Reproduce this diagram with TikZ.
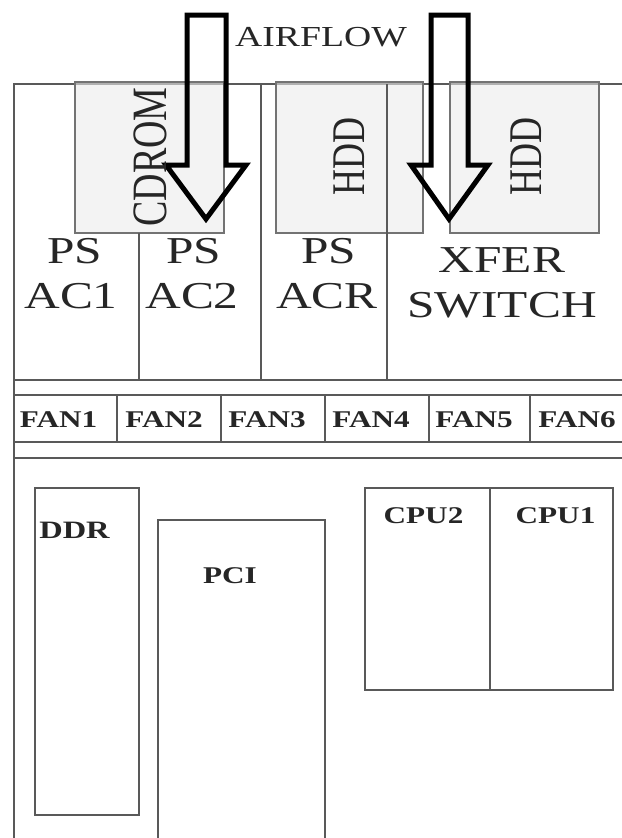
\documentclass[tikz,border=0pt]{standalone}
\usepackage{fontspec}
\setmainfont{Liberation Serif}
\begin{document}
\begin{tikzpicture}[x=0.76923pt, y=-1pt, xscale=1.3,
  frame/.style={draw=black!65, line width=1.1pt},
  bay/.style={draw=black!55, line width=1.1pt, fill=black!8, fill opacity=0.6},
  airarrow/.style={draw=black, line width=5pt, line join=miter},
  bigtxt/.style={transform shape, inner sep=0pt, text=black!85, font=\fontsize{38}{40}\selectfont},
  midtxt/.style={transform shape, inner sep=0pt, text=black!85, font=\fontsize{29}{31}\selectfont},
  smalltxt/.style={transform shape, inner sep=0pt, text=black!85, font=\bfseries\fontsize{24}{26}\selectfont}]
\useasboundingbox (0,0) rectangle (622,838);
% outer frame
\draw[frame] (622,84) -- (14,84) -- (14,838);
% shaded bays
\path[bay] (75,82) rectangle (224,233);
\path[bay] (276,82) rectangle (423,233);
\path[bay] (450,82) rectangle (599,233);
% power supply dividers
\draw[frame] (139,233) -- (139,380);
\draw[frame] (261,84) -- (261,380);
\draw[frame] (387,84) -- (387,380);
% horizontal bands
\draw[frame] (14,380) -- (622,380);
\draw[frame] (14,395) -- (622,395);
\draw[frame] (14,442) -- (622,442);
\draw[frame] (14,458) -- (622,458);
% fan dividers
\foreach \fx in {117,221,325,429,530}
  \draw[frame] (\fx,395) -- (\fx,442);
% DDR, PCI, CPU
\draw[frame] (35,488) rectangle (139,815);
\draw[frame] (158,838) -- (158,520) -- (325,520) -- (325,838);
\draw[frame] (365,488) rectangle (613,690);
\draw[frame] (490,488) -- (490,690);
% airflow arrows
\draw[airarrow] (187,15) -- (226,15) -- (226,165) -- (246,165) -- (206,219) -- (166,165) -- (187,165) -- cycle;
\draw[airarrow] (431,15) -- (468,15) -- (468,165) -- (488,165) -- (449,219) -- (411,165) -- (431,165) -- cycle;
% labels
\node[midtxt] (air) at (321,37.5) {AIRFLOW};
\node[bigtxt, rotate=90] (cdrom) at (150,157) {CDROM};
\node[bigtxt, rotate=90, font=\fontsize{36}{38}\selectfont] (hdd1) at (349,156) {HDD};
\node[bigtxt, rotate=90, font=\fontsize{36}{38}\selectfont] (hdd2) at (526,156) {HDD};
\node[bigtxt, anchor=base] (ps1) at (75,263) {PS};
\node[bigtxt, anchor=base] (ac1) at (71,308) {AC1};
\node[bigtxt, anchor=base] (ps2) at (194,263) {PS};
\node[bigtxt, anchor=base] (ac2) at (192,308) {AC2};
\node[bigtxt, anchor=base] (ps3) at (329,263) {PS};
\node[bigtxt, anchor=base] (acr) at (327,308) {ACR};
\node[bigtxt, anchor=base] (xfer) at (502,272) {XFER};
\node[bigtxt, anchor=base] (switch) at (502,317) {SWITCH};
\node[smalltxt] (fan1) at (58.5,420) {FAN1};
\node[smalltxt] (fan2) at (164,420) {FAN2};
\node[smalltxt] (fan3) at (267,420) {FAN3};
\node[smalltxt] (fan4) at (371,420) {FAN4};
\node[smalltxt] (fan5) at (474,420) {FAN5};
\node[smalltxt] (fan6) at (577,420) {FAN6};
\node[smalltxt, font=\bfseries\fontsize{25}{27}\selectfont] (ddr) at (74.5,530) {DDR};
\node[smalltxt] (pci) at (230,576) {PCI};
\node[smalltxt] (cpu2) at (423.5,516) {CPU2};
\node[smalltxt] (cpu1) at (555.5,516) {CPU1};
\end{tikzpicture}
\end{document}
